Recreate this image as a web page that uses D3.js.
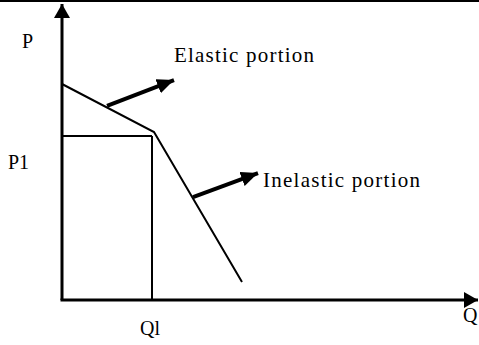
<!DOCTYPE html>
<html>
<head>
<meta charset="utf-8">
<script src="https://cdn.jsdelivr.net/npm/d3@7"></script>
<style>
  body { margin: 0; background: #fff; }
  text { font-family: "Liberation Serif", "Times New Roman", serif; fill: #000; }
</style>
</head>
<body>
<div id="chart"></div>
<script>

// kinked demand curve (Q, P) in chart units
var demandQ = [0, 23, 45];
var demandP = [72, 56, 6];

// equilibrium point
var q1 = 22.5;
var p1 = 54.7;

// pointer arrows: [Q, P] at tail and at tip
var arrowNames = ["Elastic portion", "Inelastic portion"];
var arrowFrom = [[11.25, 64.7], [32.75, 34.3]];
var arrowTo = [[28, 73.3], [49, 42.3]];

// axis labels
var axisLabels = ["P", "P1", "Ql", "Q"];

var svgWidth = 479;
var svgHeight = 345;

var svg = d3.select("#chart")
	.append("svg")
	.attr("width", svgWidth)
	.attr("height", svgHeight);

// scales, origin at (62, 300)

var x = d3.scaleLinear().domain([0, 100]).range([62, 462]);
var y = d3.scaleLinear().domain([0, 100]).range([300, 0]);

// arrow heads

var defs = svg.append("defs");

defs.append("marker")
	.attr("id", "axisHead")
	.attr("viewBox", "0 0 14 16")
	.attr("refX", 14)
	.attr("refY", 8)
	.attr("markerUnits", "userSpaceOnUse")
	.attr("markerWidth", 14)
	.attr("markerHeight", 16)
	.attr("orient", "auto")
	.append("path")
	.attr("d", "M0,0 L14,8 L0,16 Z")
	.attr("fill", "#000");

defs.append("marker")
	.attr("id", "pointHead")
	.attr("viewBox", "0 0 17 15")
	.attr("refX", 17)
	.attr("refY", 7.5)
	.attr("markerUnits", "userSpaceOnUse")
	.attr("markerWidth", 17)
	.attr("markerHeight", 15)
	.attr("orient", "auto")
	.append("path")
	.attr("d", "M0,0 L17,7.5 L0,15 Z")
	.attr("fill", "#000");

// top border

svg.append("rect")
	.attr("x", 0)
	.attr("y", 0)
	.attr("width", svgWidth)
	.attr("height", 2)
	.attr("fill", "#000");

// guide lines to P1 and Q1

svg.append("line")
	.attr("x1", x(0)).attr("y1", y(p1))
	.attr("x2", x(q1)).attr("y2", y(p1))
	.attr("stroke", "#000").attr("stroke-width", 2);

svg.append("line")
	.attr("x1", x(q1)).attr("y1", y(p1))
	.attr("x2", x(q1)).attr("y2", y(0))
	.attr("stroke", "#000").attr("stroke-width", 2);

// demand curve

var line = d3.line()
	.x(d => x(d[0]))
	.y(d => y(d[1]));

svg.append("path")
	.datum(d3.zip(demandQ, demandP))
	.attr("d", line)
	.attr("fill", "none")
	.attr("stroke", "#000")
	.attr("stroke-width", 2);

// axes

svg.append("line")
	.attr("x1", x(0)).attr("y1", y(0))
	.attr("x2", x(0)).attr("y2", 4)
	.attr("stroke", "#000").attr("stroke-width", 3)
	.attr("marker-end", "url(#axisHead)");

svg.append("line")
	.attr("x1", x(0) - 1.5).attr("y1", y(0))
	.attr("x2", 478).attr("y2", y(0))
	.attr("stroke", "#000").attr("stroke-width", 3)
	.attr("marker-end", "url(#axisHead)");

// pointer arrows and their labels

svg.selectAll(".pointer")
	.data(arrowNames)
	.enter()
	.append("line")
	.classed("pointer", true)
	.attr("x1", (d, i) => x(arrowFrom[i][0]))
	.attr("y1", (d, i) => y(arrowFrom[i][1]))
	.attr("x2", (d, i) => x(arrowTo[i][0]))
	.attr("y2", (d, i) => y(arrowTo[i][1]))
	.attr("stroke", "#000")
	.attr("stroke-width", 4)
	.attr("marker-end", "url(#pointHead)");

svg.selectAll(".pointerText")
	.data(arrowNames)
	.enter()
	.append("text")
	.classed("pointerText", true)
	.attr("x", (d, i) => x(arrowTo[i][0]) + (i == 0 ? 0 : 5))
	.attr("y", (d, i) => i == 0 ? 62 : 187)
	.attr("textLength", (d, i) => i == 0 ? 140 : 157)
	.attr("lengthAdjust", "spacing")
	.style("font-size", "21px")
	.text(d => d);

// axis labels

var labelPos = [[22, 48], [8, 169], [140, 335], [463, 322]];

svg.selectAll(".axisLabel")
	.data(axisLabels)
	.enter()
	.append("text")
	.classed("axisLabel", true)
	.attr("x", (d, i) => labelPos[i][0])
	.attr("y", (d, i) => labelPos[i][1])
	.style("font-size", "20px")
	.text(d => d);

</script>
</body>
</html>
